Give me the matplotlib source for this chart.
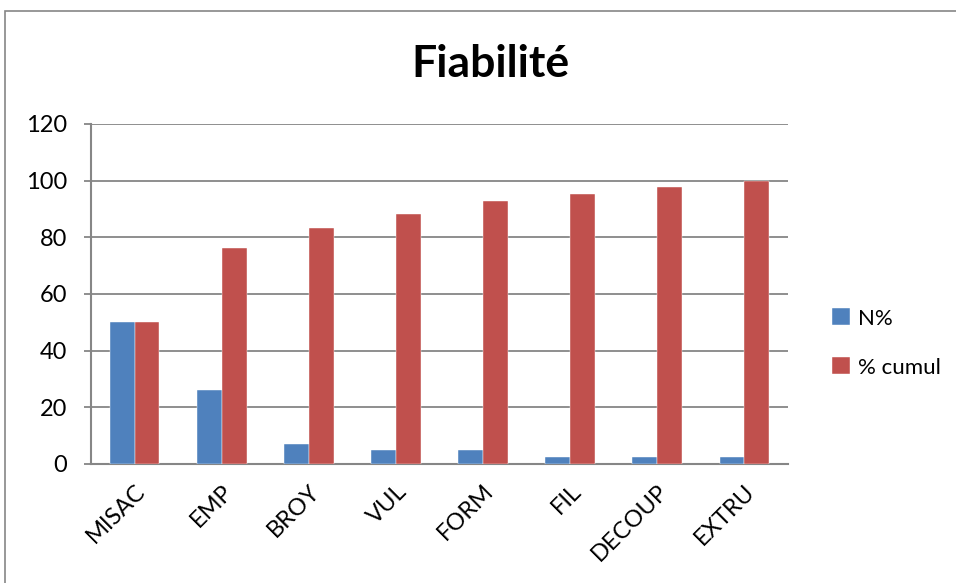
import numpy as np
import matplotlib.pyplot as plt
from matplotlib.patches import Rectangle

# Reliability data per machine
categories = ["MISAC", "EMP", "BROY", "VUL", "FORM", "FIL", "DECOUP", "EXTRU"]
n_pct = [50.0, 26.2, 7.1, 4.8, 4.8, 2.4, 2.4, 2.4]
cumul_pct = [50.0, 76.2, 83.3, 88.1, 92.9, 95.2, 97.6, 100.0]
yticks = [0, 20, 40, 60, 80, 100, 120]

BLUE = "#4F81BD"
RED = "#C0504D"
GRID = "#868686"

plt.rcParams["font.family"] = ["Lato", "DejaVu Sans"]

fig = plt.figure(figsize=(9.56, 5.83), dpi=100)
ax = fig.add_axes([91 / 956, 1 - 464 / 583, (788 - 91) / 956, (464 - 124) / 583])

# chart area border
fig.patches.append(Rectangle((5 / 956, -0.05), 1.1, 1 - 11 / 583 + 0.05,
                             transform=fig.transFigure, fill=False,
                             edgecolor=GRID, linewidth=1.2))

x = np.arange(len(categories))
w = 1 / 3.5
ax.bar(x - w / 2, n_pct, w, color=BLUE, label="N%", zorder=3,
       edgecolor="white", linewidth=0.3)
ax.bar(x + w / 2, cumul_pct, w, color=RED, label="% cumul", zorder=3,
       edgecolor="white", linewidth=0.3)

ax.set_xlim(-0.5, len(categories) - 0.5)
ax.set_ylim(0, 120)
ax.set_yticks(yticks)
ax.set_yticklabels([str(v) for v in yticks], fontsize=17)
ax.yaxis.grid(True, color=GRID, linewidth=1.3, zorder=0)
ax.tick_params(axis="y", length=5, width=1.3, color=GRID, pad=12)

ax.set_xticks(x)
ax.set_xticklabels(categories, rotation=45, ha="right", rotation_mode="anchor",
                   fontsize=17)
ax.tick_params(axis="x", length=0, pad=12)

for side in ["top", "right"]:
    ax.spines[side].set_visible(False)
for side in ["left", "bottom"]:
    ax.spines[side].set_color(GRID)
    ax.spines[side].set_linewidth(1.5)

fig.text(490 / 956, 1 - 64 / 583, "Fiabilité", fontsize=32, fontweight="bold",
         ha="center", va="center")

ax.legend(loc="center left", bbox_to_anchor=(812 / 956, 1 - 343 / 583),
          bbox_transform=fig.transFigure, frameon=False, fontsize=16,
          handlelength=0.8, handleheight=0.8, handletextpad=0.35,
          labelspacing=1.3)

fig.savefig("out.png", dpi=100)
